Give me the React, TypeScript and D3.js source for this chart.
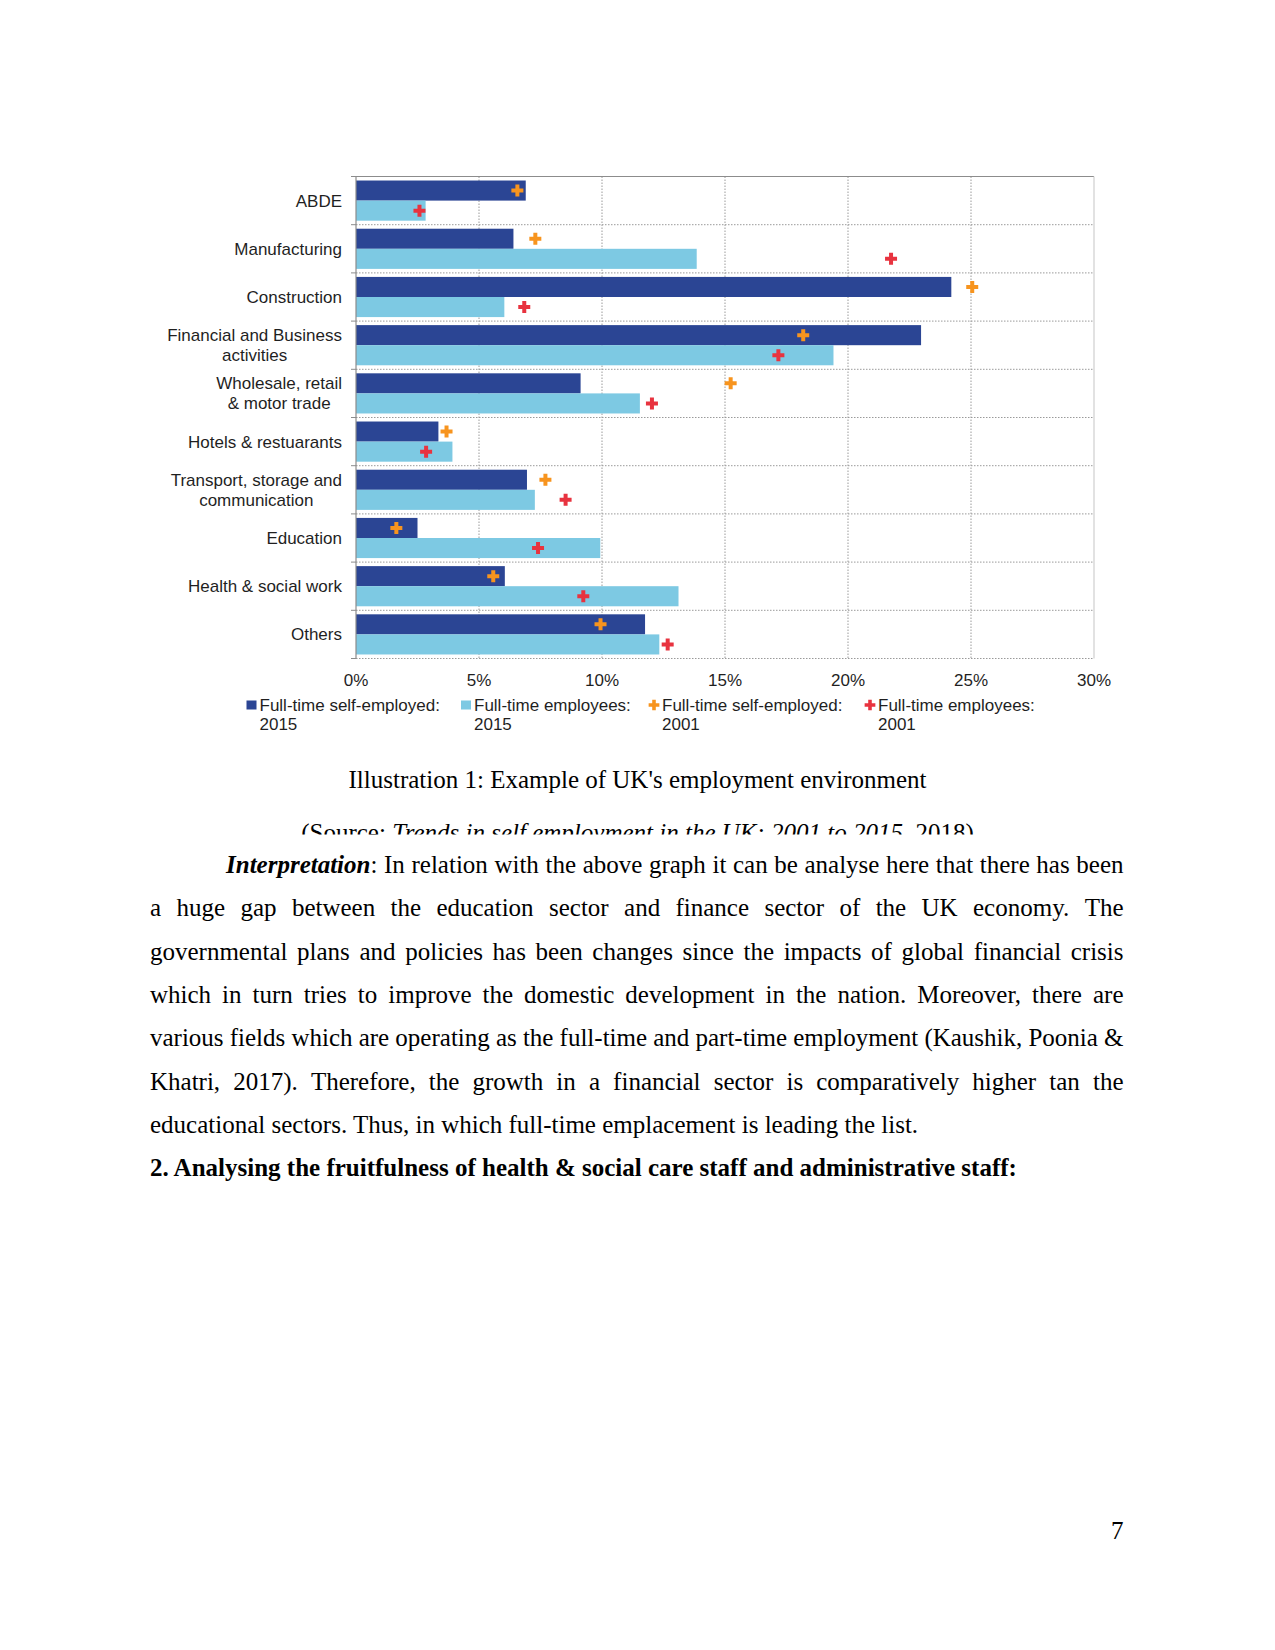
import React, { useEffect, useRef } from "react"
import * as d3 from "d3"

// sectors (wrapped as in the source figure)
const categories = [
  ["ABDE"],
  ["Manufacturing"],
  ["Construction"],
  ["Financial and Business", "activities"],
  ["Wholesale, retail", "& motor trade"],
  ["Hotels & restuarants"],
  ["Transport, storage and", "communication"],
  ["Education"],
  ["Health & social work"],
  ["Others"],
]

// % of each group working in the sector
const selfEmployed2015 = [6.9, 6.4, 24.2, 22.97, 9.13, 3.35, 6.95, 2.5, 6.05, 11.75]
const employees2015 = [2.83, 13.85, 6.03, 19.41, 11.54, 3.92, 7.27, 9.93, 13.11, 12.33]
const selfEmployed2001 = [6.56, 7.29, 25.05, 18.18, 15.23, 3.68, 7.7, 1.64, 5.58, 9.94]
const employees2001 = [2.58, 21.75, 6.84, 17.17, 12.03, 2.85, 8.52, 7.4, 9.24, 12.67]

const xTicks = [0, 5, 10, 15, 20, 25, 30]

const legendItems = [
  { line1: "Full-time self-employed:", line2: "2015", kind: "rect", color: "#2b4594", x: 246.5 },
  { line1: "Full-time employees:", line2: "2015", kind: "rect", color: "#7dc9e3", x: 461 },
  { line1: "Full-time self-employed:", line2: "2001", kind: "cross", color: "#f7941e", x: 649 },
  { line1: "Full-time employees:", line2: "2001", kind: "cross", color: "#e8333f", x: 865 },
]

const bodyLines = [
  "Interpretation: In relation with the above graph it can be analyse here that there has been",
  "a huge gap between the education sector and finance sector of the UK economy. The",
  "governmental plans and policies has been changes since the impacts of global financial crisis",
  "which in turn tries to improve the domestic development in the nation. Moreover, there are",
  "various fields which are operating as the full-time and part-time employment (Kaushik, Poonia &",
  "Khatri, 2017). Therefore, the growth in a financial sector is comparatively higher tan the",
  "educational sectors. Thus, in which full-time emplacement is leading the list.",
]

const heading = "2. Analysing the fruitfulness of health & social care staff and administrative staff:"

const sans = "'Liberation Sans', Arial, sans-serif"
const serif = "'Liberation Serif', 'Times New Roman', serif"

export default function App() {
  const ref = useRef<SVGSVGElement>(null)

  useEffect(() => {
    const svg = d3.select(ref.current)
    svg.selectAll("*").remove()

    const left = 356
    const right = 1094
    const top = 176.5
    const bottom = 658.5
    const dark = "#2b4594"
    const light = "#7dc9e3"
    const orange = "#f7941e"
    const red = "#e8333f"
    const textColor = "#1f1f1f"

    const x = d3.scaleLinear().domain([0, 30]).range([left, right])
    const y = d3.scaleBand<number>().domain(d3.range(categories.length)).range([top, bottom])
    const sub = d3.scaleBand<string>().domain(["self", "emp"]).range([0, y.bandwidth()]).paddingOuter(0.2)

    const chart = svg.append("g")

    // dotted grid
    chart.selectAll("line.vgrid")
      .data(xTicks.filter(t => t > 0 && t < 30))
      .enter().append("line")
      .attr("x1", d => x(d)).attr("x2", d => x(d))
      .attr("y1", top).attr("y2", bottom)
      .attr("stroke", "#9a9a9a").attr("stroke-width", 1)
      .attr("stroke-dasharray", "1.5,1.5")
    chart.selectAll("line.hgrid")
      .data(d3.range(1, categories.length + 1))
      .enter().append("line")
      .attr("x1", left).attr("x2", right)
      .attr("y1", d => (d < categories.length ? y(d)! : bottom))
      .attr("y2", d => (d < categories.length ? y(d)! : bottom))
      .attr("stroke", "#9a9a9a").attr("stroke-width", 1)
      .attr("stroke-dasharray", "1.5,1.5")

    // frame
    chart.append("line").attr("x1", left).attr("x2", right).attr("y1", top).attr("y2", top)
      .attr("stroke", "#8c8c8c").attr("stroke-width", 1.2)
    chart.append("line").attr("x1", right).attr("x2", right).attr("y1", top).attr("y2", bottom)
      .attr("stroke", "#cfcfcf").attr("stroke-width", 1.2)

    // bars
    chart.selectAll("rect.self")
      .data(selfEmployed2015)
      .enter().append("rect")
      .attr("x", x(0))
      .attr("y", (d, i) => y(i)! + sub("self")!)
      .attr("width", d => x(d) - x(0))
      .attr("height", sub.bandwidth())
      .attr("fill", dark)
    chart.selectAll("rect.emp")
      .data(employees2015)
      .enter().append("rect")
      .attr("x", x(0))
      .attr("y", (d, i) => y(i)! + sub("emp")!)
      .attr("width", d => x(d) - x(0))
      .attr("height", sub.bandwidth())
      .attr("fill", light)

    // left axis with ticks at category boundaries
    chart.append("line").attr("x1", left).attr("x2", left).attr("y1", top).attr("y2", bottom)
      .attr("stroke", "#8c8c8c").attr("stroke-width", 1.2)
    chart.selectAll("line.ytick")
      .data(d3.range(0, categories.length + 1))
      .enter().append("line")
      .attr("x1", left - 5).attr("x2", left)
      .attr("y1", d => (d < categories.length ? y(d)! : bottom))
      .attr("y2", d => (d < categories.length ? y(d)! : bottom))
      .attr("stroke", "#8c8c8c").attr("stroke-width", 1)

    // 2001 markers
    const cross = d3.symbol().type(d3.symbolCross).size(80)
    chart.selectAll("path.self01")
      .data(selfEmployed2001)
      .enter().append("path")
      .attr("d", cross)
      .attr("transform", (d, i) => `translate(${x(d)},${y(i)! + sub("self")! + sub.bandwidth() / 2})`)
      .attr("fill", orange)
    chart.selectAll("path.emp01")
      .data(employees2001)
      .enter().append("path")
      .attr("d", cross)
      .attr("transform", (d, i) => `translate(${x(d)},${y(i)! + sub("emp")! + sub.bandwidth() / 2})`)
      .attr("fill", red)

    // category labels, each block centred, right edge on the axis
    categories.forEach((lines, i) => {
      const cy = y(i)! + y.bandwidth() / 2
      const texts = lines.map((line, j) =>
        chart.append("text")
          .attr("y", cy - (lines.length - 1) * 10 + j * 20 + 6)
          .attr("text-anchor", "middle")
          .attr("font-family", sans).attr("font-size", 17)
          .attr("fill", textColor)
          .text(line)
      )
      const maxW = d3.max(texts, t => (t.node() as SVGTextElement).getComputedTextLength()) || 0
      texts.forEach(t => t.attr("x", 342 - maxW / 2))
    })

    // x tick labels
    chart.selectAll("text.xtick")
      .data(xTicks)
      .enter().append("text")
      .attr("x", d => x(d)).attr("y", 686)
      .attr("text-anchor", "middle")
      .attr("font-family", sans).attr("font-size", 17)
      .attr("fill", textColor)
      .text(d => d + "%")

    // legend
    const legendSymbol = d3.symbol().type(d3.symbolCross).size(64)
    legendItems.forEach(item => {
      const g = chart.append("g")
      if (item.kind === "rect") {
        g.append("rect").attr("x", item.x).attr("y", 700.5).attr("width", 10).attr("height", 9).attr("fill", item.color)
      } else {
        g.append("path").attr("d", legendSymbol).attr("transform", `translate(${item.x + 5},705)`).attr("fill", item.color)
      }
      g.append("text").attr("x", item.x + 13).attr("y", 711)
        .attr("font-family", sans).attr("font-size", 17).attr("fill", textColor).text(item.line1)
      g.append("text").attr("x", item.x + 13).attr("y", 730)
        .attr("font-family", sans).attr("font-size", 17).attr("fill", textColor).text(item.line2)
    })

    // caption + clipped source line
    svg.append("text")
      .attr("x", 637.5).attr("y", 788)
      .attr("text-anchor", "middle")
      .attr("font-family", serif).attr("font-size", 25).attr("fill", "#000")
      .text("Illustration 1: Example of UK's employment environment")

    svg.append("clipPath").attr("id", "srcClip")
      .append("rect").attr("x", 0).attr("y", 800).attr("width", 1275).attr("height", 34.5)
    const src = svg.append("text")
      .attr("clip-path", "url(#srcClip)")
      .attr("x", 637.5).attr("y", 841)
      .attr("text-anchor", "middle")
      .attr("font-family", serif).attr("font-size", 25).attr("fill", "#000")
    src.append("tspan").text("(Source: ")
    src.append("tspan").attr("font-style", "italic").text("Trends in self employment in the UK: 2001 to 2015")
    src.append("tspan").text(", 2018)")

    // body paragraph, justified by spreading the words
    const textLeft = 150
    const textRight = 1123.5
    const lineStep = 43.35
    const firstBase = 873
    bodyLines.forEach((line, li) => {
      const base = firstBase + li * lineStep
      const x0 = li === 0 ? 226 : textLeft
      const justify = li < bodyLines.length - 1
      if (!justify) {
        svg.append("text").attr("x", x0).attr("y", base)
          .attr("font-family", serif).attr("font-size", 25).attr("fill", "#000")
          .text(line)
        return
      }
      const words = line.split(" ")
      const nodes = words.map(w => {
        const t = svg.append("text").attr("y", base)
          .attr("font-family", serif).attr("font-size", 25).attr("fill", "#000")
        if (w.startsWith("Interpretation")) {
          t.append("tspan").attr("font-weight", "bold").attr("font-style", "italic").text("Interpretation")
          t.append("tspan").text(w.slice("Interpretation".length))
        } else {
          t.text(w)
        }
        return t
      })
      const widths = nodes.map(t => (t.node() as SVGTextElement).getComputedTextLength())
      const gap = (textRight - x0 - d3.sum(widths)) / (words.length - 1)
      let cx = x0
      nodes.forEach((t, k) => {
        t.attr("x", cx)
        cx += widths[k] + gap
      })
    })

    svg.append("text")
      .attr("x", textLeft).attr("y", firstBase + bodyLines.length * lineStep)
      .attr("font-family", serif).attr("font-size", 25).attr("font-weight", "bold").attr("fill", "#000")
      .text(heading)

    svg.append("text")
      .attr("x", 1123.5).attr("y", 1539)
      .attr("text-anchor", "end")
      .attr("font-family", serif).attr("font-size", 25).attr("fill", "#000")
      .text("7")
  }, [])

  return (
    <div style={{ position: "absolute", left: 0, top: 0, width: 1275, height: 1650, background: "#fff" }}>
      <svg ref={ref} width={1275} height={1650} />
    </div>
  )
}
